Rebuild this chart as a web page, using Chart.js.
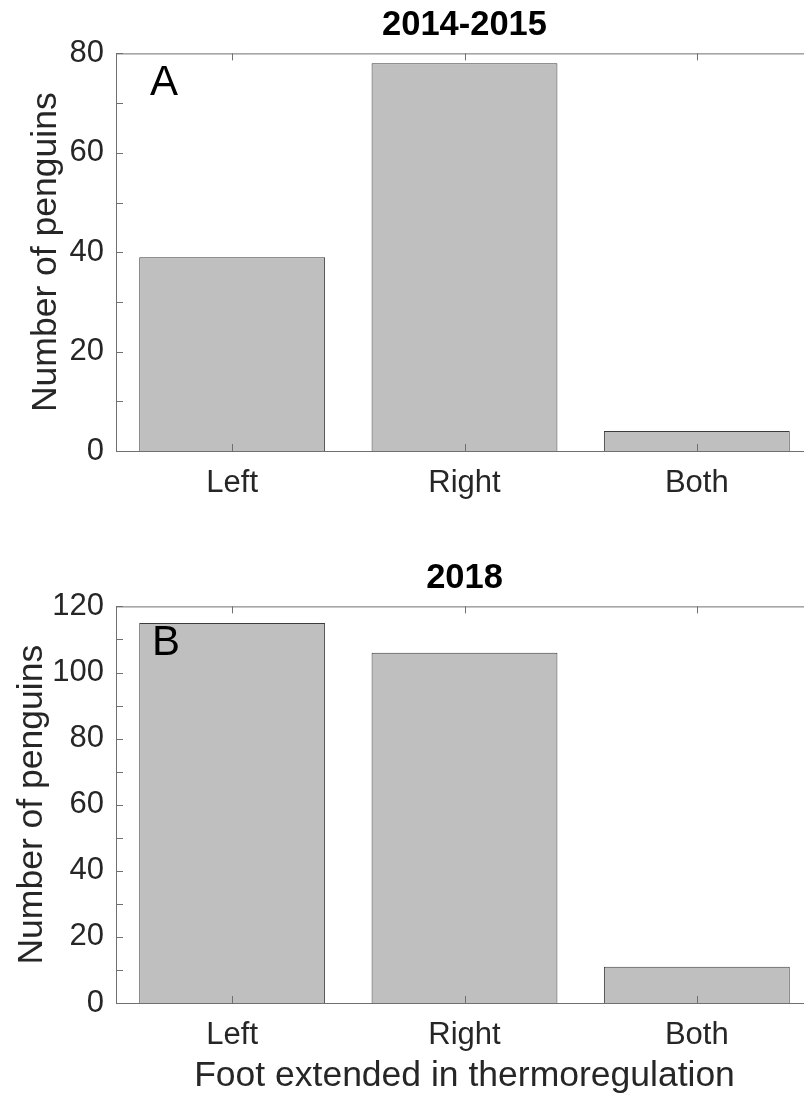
<!DOCTYPE html>
<html>
<head>
<meta charset="utf-8">
<script src="https://cdn.jsdelivr.net/npm/chart.js@4/dist/chart.umd.min.js"></script>
<style>
  html, body { margin: 0; padding: 0; background: #fff; width: 804px; height: 1095px; overflow: hidden; }
  canvas { position: absolute; left: 0; }
  #chartA { top: 0; }
  #chartB { top: 553px; }
</style>
</head>
<body>
<canvas id="chartA" width="814" height="520"></canvas>
<canvas id="chartB" width="814" height="542"></canvas>
<script>
// Datos
const categories = ['Left', 'Right', 'Both'];
const counts2014 = [39, 78, 4];
const counts2018 = [115, 106, 11];
const yMaxA = 80;
const yMaxB = 120;

const FONT = '"Liberation Sans", Arial, Helvetica, sans-serif';
const TEXT = '#262626';
const AXIS = '#707070';

Chart.defaults.font.family = FONT;
Chart.defaults.color = TEXT;

// Ejes estilo MATLAB: caja completa y marcas hacia dentro
const matlabAxes = {
    id: 'matlabAxes',
    afterDraw(chart, args, opts) {
        const { ctx, chartArea: a, scales: { x, y } } = chart;
        const t = 7;
        ctx.save();
        ctx.strokeStyle = AXIS;
        ctx.lineWidth = 1;
        ctx.beginPath();
        ctx.rect(a.left + 0.5, a.top + 0.5, a.right - a.left, a.bottom - a.top);
        for (let v = y.min; v <= y.max; v += opts.minorStep) {
            const py = Math.round(y.getPixelForValue(v)) + 0.5;
            ctx.moveTo(a.left, py); ctx.lineTo(a.left + t, py);
            ctx.moveTo(a.right, py); ctx.lineTo(a.right - t, py);
        }
        categories.forEach((c, i) => {
            const px = Math.round(x.getPixelForValue(i + 1)) + 0.5;
            ctx.moveTo(px, a.bottom); ctx.lineTo(px, a.bottom - t);
            ctx.moveTo(px, a.top); ctx.lineTo(px, a.top + t);
        });
        ctx.stroke();
        // letra del panel
        ctx.fillStyle = '#000';
        ctx.font = '42px ' + FONT;
        ctx.textBaseline = 'alphabetic';
        ctx.textAlign = 'left';
        ctx.fillText(opts.letter, x.getPixelForValue(opts.letterAt[0]), y.getPixelForValue(opts.letterAt[1]));
        ctx.restore();
    }
};

function makeChart(id, title, values, yMax, opts) {
    return new Chart(document.getElementById(id), {
        type: 'bar',
        data: {
            datasets: [{
                data: values.map((v, i) => ({ x: i + 1, y: v })),
                backgroundColor: '#bfbfbf',
                borderColor: '#3c3c3c',
                borderWidth: 1,
                borderSkipped: 'start',
                categoryPercentage: 1,
                barPercentage: 0.8
            }]
        },
        options: {
            responsive: false,
            animation: false,
            layout: { padding: { left: 0, right: 1, top: 0, bottom: 0 } },
            plugins: {
                legend: { display: false },
                tooltip: { enabled: false },
                title: {
                    display: true,
                    fullSize: false,
                    text: title,
                    color: '#000',
                    font: { size: 34.5, weight: 'bold' },
                    padding: { top: 5, bottom: 7 }
                },
                matlabAxes: { minorStep: 10, letter: opts.letter, letterAt: opts.letterAt }
            },
            scales: {
                x: {
                    type: 'linear',
                    min: 0.5,
                    max: 3.5,
                    offset: false,
                    grid: { display: false, drawTicks: false, offset: false },
                    border: { display: false },
                    ticks: {
                        font: { size: 31 },
                        color: TEXT,
                        padding: 14,
                        callback: v => categories[v - 1] || ''
                    },
                    afterBuildTicks: s => { s.ticks = categories.map((c, i) => ({ value: i + 1 })); },
                    afterFit: s => { s.height = opts.xHeight; s.paddingLeft = 0; s.paddingRight = 0; },
                    title: {
                        display: !!opts.xTitle,
                        text: opts.xTitle || '',
                        color: TEXT,
                        font: { size: 35.5, lineHeight: 1.05 },
                        padding: { top: 0, bottom: 0 }
                    }
                },
                y: {
                    min: 0,
                    max: yMax,
                    grid: { display: false, drawTicks: false },
                    border: { display: false },
                    ticks: { stepSize: 20, font: { size: 31 }, color: TEXT, padding: 12 },
                    afterFit: s => { s.width = 116; },
                    title: {
                        display: true,
                        text: 'Number of penguins',
                        color: TEXT,
                        font: { size: 35.5 },
                        padding: { top: opts.yTitlePad, bottom: 0 }
                    }
                }
            }
        },
        plugins: [matlabAxes]
    });
}

makeChart('chartA', '2014-2015', counts2014, yMaxA, {
    letter: 'A', letterAt: [0.646, 71.6], xHeight: 69, yTitlePad: 25
});
makeChart('chartB', '2018', counts2018, yMaxB, {
    letter: 'B', letterAt: [0.655, 105.2], xHeight: 92, yTitlePad: 11,
    xTitle: 'Foot extended in thermoregulation'
});
</script>
</body>
</html>
